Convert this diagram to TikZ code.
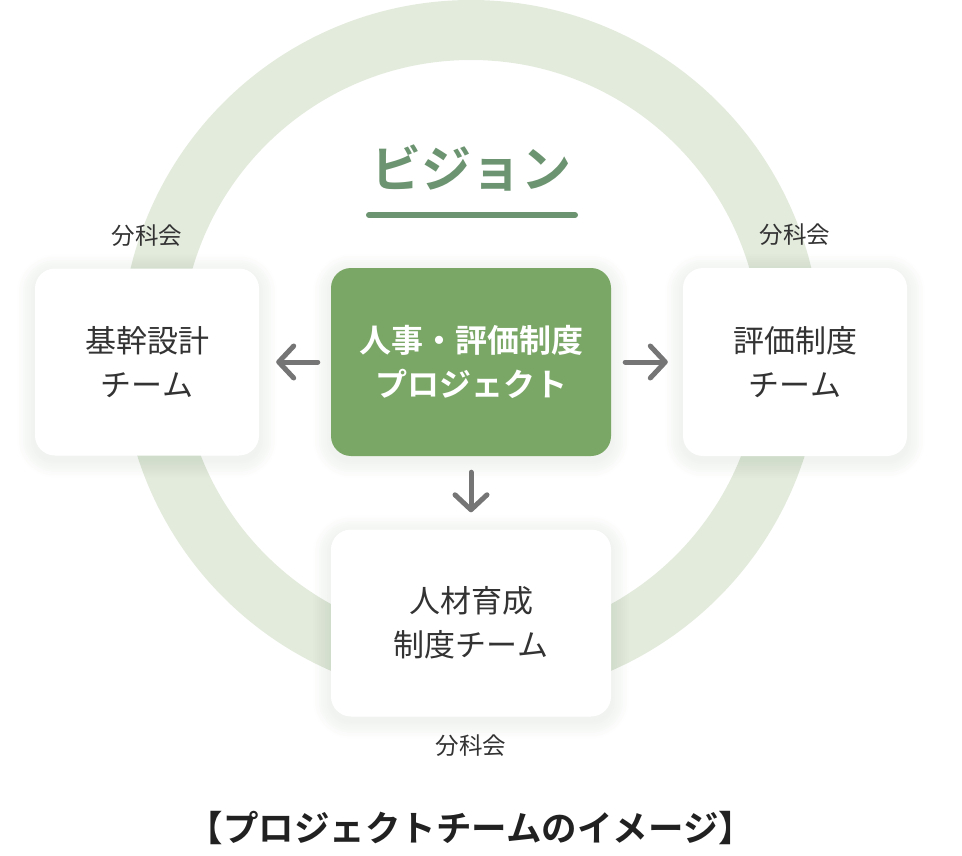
\documentclass[tikz,border=0pt]{standalone}
\usepackage{fontspec}
\setmainfont{Noto Sans CJK JP}[BoldFont={Noto Sans CJK JP Bold}]
\usetikzlibrary{arrows.meta}

\definecolor{ringgreen}{RGB}{227,235,221}
\definecolor{projgreen}{RGB}{123,167,102}
\definecolor{visiongreen}{RGB}{108,148,112}
\definecolor{textgray}{RGB}{51,51,51}
\definecolor{arrowgray}{RGB}{117,117,117}
\definecolor{shadowgreen}{RGB}{110,140,100}

\pgfdeclarelayer{ring}
\pgfdeclarelayer{shade}
\pgfsetlayers{ring,shade,main}

\tikzset{
  card/.style={rectangle, rounded corners=20pt, fill=white, text=textgray,
    align=center, font=\fontsize{31}{44}\selectfont},
  projcard/.style={card, fill=projgreen, text=white,
    font=\fontsize{32}{44}\selectfont\bfseries},
  bunka/.style={text=textgray, font=\fontsize{23.5}{26}\selectfont},
  flow/.style={draw=arrowgray, line width=5pt, line cap=round,
    -{Straight Barb[length=15pt,width=32pt,round]}}
}

% soft shadow under a card
\newcommand\cardshadow[1]{%
  \begin{pgfonlayer}{shade}
    \foreach \s in {2,4,...,18}
      \fill[shadowgreen, opacity=0.012, rounded corners=20pt+\s pt]
        ([shift={(-\s pt,\s pt-4pt)}]#1.north west) rectangle ([shift={(\s pt,-\s pt-4pt)}]#1.south east);
  \end{pgfonlayer}}

\begin{document}
\begin{tikzpicture}[x=1pt,y=-1pt]
\useasboundingbox (0,0) rectangle (962,856);

% ring
\begin{pgfonlayer}{ring}
\draw[ringgreen, line width=60pt] (471,350) circle[radius=320pt];
\end{pgfonlayer}

% vision
\node[text=visiongreen, font=\fontsize{50}{56}\selectfont\bfseries] (vision) at (471,168) {ビジョン};
\draw[visiongreen, line width=6pt, line cap=round] (369,215) -- (575,215);

% teams
\node[projcard, minimum width=280pt, minimum height=188pt] (proj) at (471,362) {人事・評価制度\\プロジェクト};
\node[card, minimum width=224pt, minimum height=187pt] (kikan) at (147,362) {基幹設計\\チーム};
\node[card, minimum width=224pt, minimum height=188pt] (hyoka) at (795,362) {評価制度\\チーム};
\node[card, minimum width=280pt, minimum height=187pt] (jinzai) at (471,623) {人材育成\\制度チーム};

\cardshadow{proj}
\cardshadow{kikan}
\cardshadow{hyoka}
\cardshadow{jinzai}

\node[bunka] (bunkaL) at ([yshift=33pt]kikan.north) {分科会};
\node[bunka] (bunkaR) at ([yshift=33pt]hyoka.north) {分科会};
\node[bunka] (bunkaB) at ([yshift=-29pt]jinzai.south) {分科会};

% arrows
\draw[flow, shorten <=13pt, shorten >=17pt] (proj.west) -- (kikan.east);
\draw[flow, shorten <=14pt, shorten >=15pt] (proj.east) -- (hyoka.west);
\draw[flow, shorten <=16pt, shorten >=17pt] (proj.south) -- (jinzai.north);

% caption
\node[text=black!87, font=\fontsize{35.5}{40}\selectfont\bfseries] (caption) at (471,828) {【プロジェクトチームのイメージ】};
\end{tikzpicture}
\end{document}
